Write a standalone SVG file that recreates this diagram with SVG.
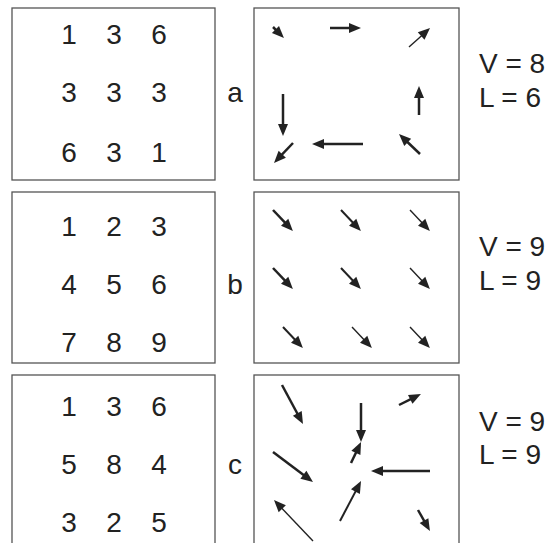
<svg xmlns="http://www.w3.org/2000/svg" width="548" height="543" viewBox="0 0 548 543">
<style>
.box{fill:#fff;stroke:#555;stroke-width:1.3}
.t{font-family:"Liberation Sans",Arial,sans-serif;font-size:28px;fill:#222;text-anchor:middle}
.lab{font-family:"Liberation Sans",Arial,sans-serif;font-size:28px;fill:#222}
.ar{stroke:#222;stroke-width:2.5;fill:none;marker-end:url(#h)}
.m{stroke-width:2}
.th{stroke-width:1.4}
</style>
<defs>
<marker id="h" markerUnits="userSpaceOnUse" markerWidth="12" markerHeight="10" refX="4" refY="5" orient="auto" overflow="visible">
<path d="M0,0 L12,5 L0,10 z" fill="#222"/>
</marker>
</defs>
<rect width="548" height="543" fill="#fff"/>
<g id="panel-a-numbers">
<rect class="box" x="12" y="8" width="203" height="172"/>
<text class="t" x="69" y="44">1</text><text class="t" x="114" y="44">3</text><text class="t" x="159" y="44">6</text>
<text class="t" x="69" y="102">3</text><text class="t" x="114" y="102">3</text><text class="t" x="159" y="102">3</text>
<text class="t" x="69" y="162">6</text><text class="t" x="114" y="162">3</text><text class="t" x="159" y="162">1</text>
</g>
<g id="label-a"><text class="t" x="235" y="102">a</text></g>
<g id="panel-a-field"><rect class="box" x="254" y="8" width="205" height="172"/></g>
<g id="label-a-vl"><text class="lab" x="479" y="73">V = 8</text><text class="lab" x="479" y="107">L = 6</text></g>

<g id="panel-b-numbers">
<rect class="box" x="12" y="192" width="203" height="171"/>
<text class="t" x="69" y="236">1</text><text class="t" x="114" y="236">2</text><text class="t" x="159" y="236">3</text>
<text class="t" x="69" y="294">4</text><text class="t" x="114" y="294">5</text><text class="t" x="159" y="294">6</text>
<text class="t" x="69" y="352">7</text><text class="t" x="114" y="352">8</text><text class="t" x="159" y="352">9</text>
</g>
<g id="label-b"><text class="t" x="235" y="294">b</text></g>
<g id="panel-b-field"><rect class="box" x="254" y="192" width="205" height="171"/></g>
<g id="label-b-vl"><text class="lab" x="479" y="256">V = 9</text><text class="lab" x="479" y="290">L = 9</text></g>

<g id="panel-c-numbers">
<rect class="box" x="12" y="375" width="203" height="180"/>
<text class="t" x="69" y="416">1</text><text class="t" x="114" y="416">3</text><text class="t" x="159" y="416">6</text>
<text class="t" x="69" y="474">5</text><text class="t" x="114" y="474">8</text><text class="t" x="159" y="474">4</text>
<text class="t" x="69" y="532">3</text><text class="t" x="114" y="532">2</text><text class="t" x="159" y="532">5</text>
</g>
<g id="label-c"><text class="t" x="235" y="474">c</text></g>
<g id="panel-c-field"><rect class="box" x="254" y="375" width="205" height="180"/></g>
<g id="label-c-vl"><text class="lab" x="479" y="431">V = 9</text><text class="lab" x="479" y="464">L = 9</text></g>

<g id="connectors">
<g id="arrows-a">
<line class="ar" x1="273" y1="27" x2="278.3" y2="32.3"/>
<line class="ar" x1="330" y1="28" x2="353" y2="28"/>
<line class="ar th" x1="409" y1="47" x2="424.1" y2="33.4"/>
<line class="ar" x1="283" y1="94" x2="283" y2="128"/>
<line class="ar" x1="419" y1="115" x2="419" y2="94"/>
<line class="ar" x1="420" y1="154" x2="404.8" y2="139.5"/>
<line class="ar" x1="363" y1="144" x2="320" y2="144"/>
<line class="ar" x1="293" y1="143" x2="279.5" y2="157.2"/>
</g>
<g id="arrows-b">
<line class="ar" x1="273" y1="210" x2="287.4" y2="225.2"/>
<line class="ar m" x1="341" y1="210" x2="355.4" y2="225.2"/>
<line class="ar th" x1="410" y1="210" x2="424.4" y2="225.2"/>
<line class="ar" x1="273" y1="268" x2="287.4" y2="283.2"/>
<line class="ar m" x1="341" y1="268" x2="355.4" y2="283.2"/>
<line class="ar th" x1="410" y1="268" x2="424.4" y2="283.2"/>
<line class="ar m" x1="283" y1="327" x2="297.4" y2="342.2"/>
<line class="ar th" x1="352" y1="327" x2="366.4" y2="342.2"/>
<line class="ar th" x1="410" y1="327" x2="424.4" y2="342.2"/>
</g>
<g id="arrows-c">
<line class="ar" x1="282" y1="385" x2="299.2" y2="417"/>
<line class="ar" x1="399" y1="405" x2="413.8" y2="397.6"/>
<line class="ar" x1="361" y1="403" x2="361" y2="434"/>
<line class="ar" x1="351" y1="463" x2="357.6" y2="449.2"/>
<line class="ar" x1="273" y1="452" x2="306.6" y2="477.2"/>
<line class="ar" x1="430" y1="471" x2="379" y2="471"/>
<line class="ar m" x1="340" y1="521" x2="357.3" y2="488.1"/>
<line class="ar th" x1="313" y1="541" x2="279.5" y2="505.8"/>
<line class="ar" x1="418" y1="510" x2="426" y2="524.1"/>
</g>
</g>
</svg>
